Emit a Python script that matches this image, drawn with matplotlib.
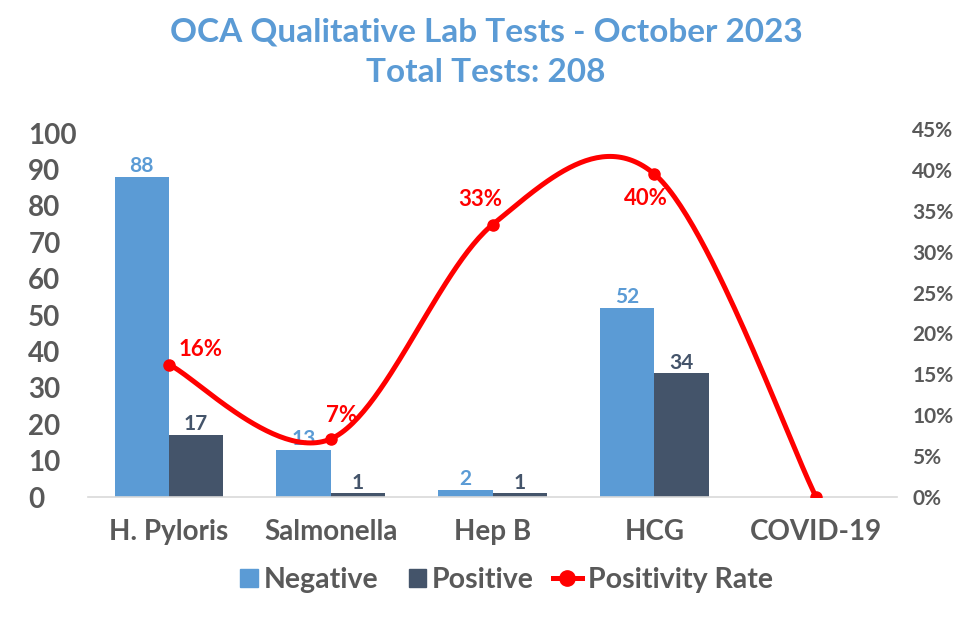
import numpy as np
import matplotlib
matplotlib.use("Agg")
import matplotlib.pyplot as plt
from matplotlib.lines import Line2D
from matplotlib.patches import Patch, Rectangle
from matplotlib.legend_handler import HandlerPatch

plt.rcParams['font.family'] = ['Lato', 'DejaVu Sans']

# data
categories = ['H. Pyloris', 'Salmonella', 'Hep B', 'HCG', 'COVID-19']
negative = [88, 13, 2, 52, 0]
positive = [17, 1, 1, 34, 0]
rate = [0.162, 0.071, 0.333, 0.395, 0.0]
rate_labels = ['16%', '7%', '33%', '40%', '']
total_tests = 208

blue = '#5B9BD5'
navy = '#44546A'
red = '#FF0000'
grey = '#595959'


def smooth(xs, ys, n=60):
    # Excel-like smoothed line: Catmull-Rom through the points
    P = np.column_stack([xs, ys]).astype(float)
    out = []
    for i in range(len(P) - 1):
        p0 = P[max(i - 1, 0)]
        p1 = P[i]
        p2 = P[i + 1]
        p3 = P[min(i + 2, len(P) - 1)]
        b1 = p1 + (p2 - p0) / 6
        b2 = p2 - (p3 - p1) / 6
        t = np.linspace(0, 1, n)[:, None]
        seg = ((1 - t) ** 3) * p1 + 3 * t * (1 - t) ** 2 * b1 + 3 * t ** 2 * (1 - t) * b2 + t ** 3 * p2
        out.append(seg if i == 0 else seg[1:])
    out = np.vstack(out)
    return out[:, 0], out[:, 1]


def square(legend, orig_handle, xdescent, ydescent, width, height, fontsize):
    # small square handle, pushed to the right end of the handle box
    s = 0.6 * fontsize
    return Rectangle((-xdescent + width - s, -ydescent + (height - s) / 2), s, s)


W, H = 957, 620
fig = plt.figure(figsize=(W / 100, H / 100), dpi=100)
ax = fig.add_axes([88 / W, (H - 497) / H, (897 - 88) / W, (497 - 129) / H])

x = np.arange(len(categories))
w = 0.335
ax.bar(x - w / 2, negative, w, color=blue, zorder=2)
ax.bar(x + w / 2, positive, w, color=navy, zorder=2)

for i in range(len(categories)):
    if negative[i] or positive[i]:
        ax.text(x[i] - w / 2, negative[i] + 0.2, str(negative[i]), ha='center', va='bottom',
                color=blue, fontsize=15, fontweight='bold')
        ax.text(x[i] + w / 2, positive[i] + 0.2, str(positive[i]), ha='center', va='bottom',
                color=navy, fontsize=15, fontweight='bold')

ax.set_xlim(-0.5, 4.5)
ax.set_ylim(0, 101.1)
ax.set_yticks(range(0, 101, 10))
ax.set_xticks(x)
ax.set_xticklabels(categories, fontsize=20, fontweight='bold', color=grey)
ax.tick_params(axis='x', length=0, pad=16)
ax.tick_params(axis='y', length=0, pad=43, labelsize=20, labelcolor=grey)
for lab in ax.get_yticklabels():
    lab.set_horizontalalignment('left')
    lab.set_fontweight('bold')
for s in ['top', 'right', 'left']:
    ax.spines[s].set_visible(False)
ax.spines['bottom'].set_color('#D9D9D9')
ax.spines['bottom'].set_linewidth(1.2)

ax2 = ax.twinx()
ax2.set_ylim(0, 0.45)
ax2.set_yticks(np.arange(0, 0.451, 0.05))
ax2.set_yticklabels([f'{int(round(v * 100))}%' for v in np.arange(0, 0.451, 0.05)])
ax2.tick_params(axis='y', length=0, pad=11, labelsize=15, labelcolor=grey)
for lab in ax2.get_yticklabels():
    lab.set_fontweight('bold')
for s in ax2.spines.values():
    s.set_visible(False)

sx, sy = smooth(x, rate)
ax2.plot(sx, sy, color=red, lw=3.6, solid_capstyle='round', zorder=3)
ax2.plot(x, rate, 'o', color=red, ms=8, zorder=4)

offsets = [(23, 11), (8, 17), (-9, 18), (-6, -18), (0, 0)]
for i, lab in enumerate(rate_labels):
    if lab:
        ax2.annotate(lab, (x[i], rate[i]), xytext=offsets[i], textcoords='offset points',
                     ha='center', va='center', color=red, fontsize=16, fontweight='bold')

fig.text(0.508, 1 - 32 / H, 'OCA Qualitative Lab Tests - October 2023', ha='center', va='center',
         color=blue, fontsize=24, fontweight='bold')
fig.text(0.508, 1 - 73 / H, f'Total Tests: {total_tests}', ha='center', va='center',
         color=blue, fontsize=24, fontweight='bold')

neg_patch = Patch(color=blue)
pos_patch = Patch(color=navy)
rate_line = Line2D([], [], color=red, lw=3.6, marker='o', ms=11)
leg = fig.legend([neg_patch, pos_patch, rate_line], ['Negative', 'Positive', 'Positivity Rate'],
                 loc='center', bbox_to_anchor=(0.5235, 1 - 580 / H), ncol=3, frameon=False,
                 handlelength=1.0, handleheight=0.7, handletextpad=0.22, columnspacing=0.67,
                 prop={'weight': 'bold', 'size': 20.5},
                 handler_map={Patch: HandlerPatch(patch_func=square)})
for t in leg.get_texts():
    t.set_color(grey)

fig.savefig('out.png', dpi=100)
